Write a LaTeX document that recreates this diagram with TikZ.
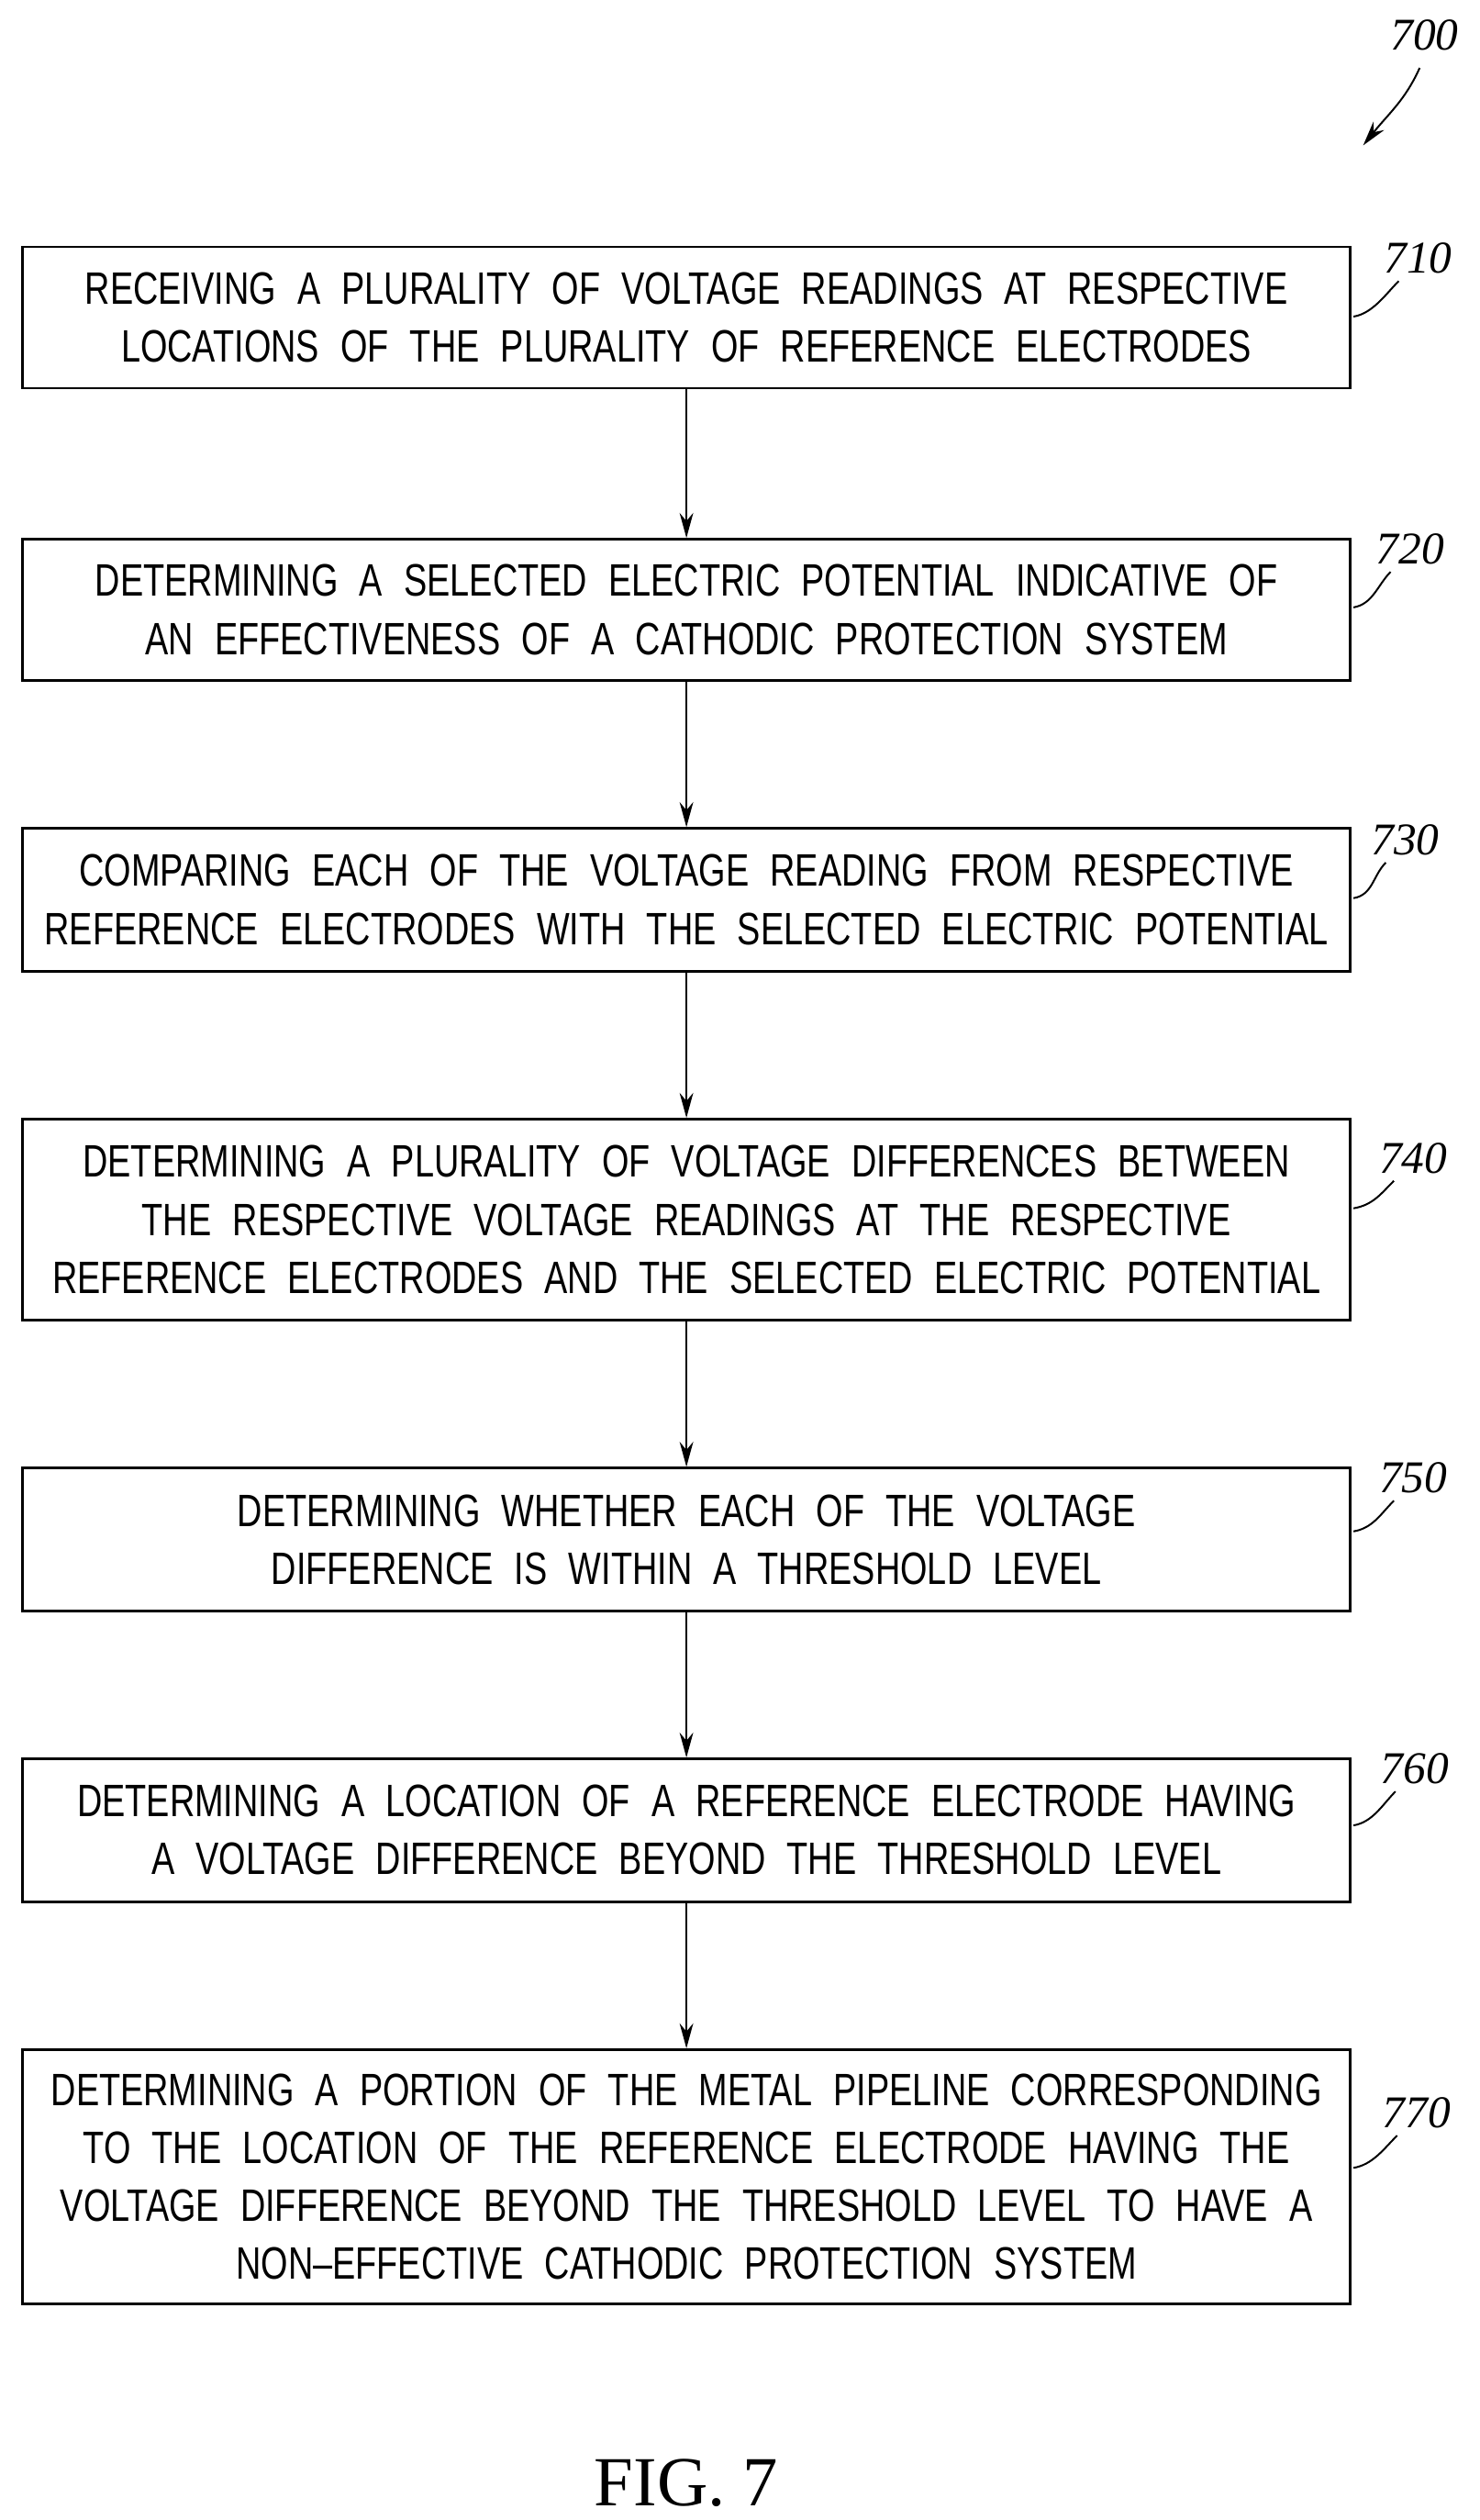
\documentclass[tikz,border=0pt]{standalone}
\usepackage{fontspec}
\setmainfont{Liberation Sans}[FakeStretch=0.765,WordSpace=2.2]
\newfontfamily\figfont{Liberation Serif}
\usetikzlibrary{arrows.meta}
\begin{document}
\begin{tikzpicture}[x=0.05cm,y=-0.05cm,
 box/.style={draw,line width=2.2pt,inner sep=0pt,align=center,font=\fontsize{40}{51}\selectfont},
 arr/.style={line width=1.6pt,-{Stealth[length=22pt,width=12pt]}},
 lead/.style={line width=1.6pt},
 lab/.style={font=\fontsize{40}{40}\selectfont\itshape\figfont}]
\useasboundingbox (0,0) rectangle (916,1560);
\def\bx#1#2#3#4{\node[box,minimum width=41.1cm,minimum height={(#3-#2)*0.05cm-2.2pt}] (#1) at (425,{(#2+#3)/2}) {#4};}
\bx{b710}{152}{241}{RECEIVING A PLURALITY OF VOLTAGE READINGS AT RESPECTIVE\\LOCATIONS OF THE PLURALITY OF REFERENCE ELECTRODES}
\bx{b720}{333}{422}{DETERMINING A SELECTED ELECTRIC POTENTIAL INDICATIVE OF\\AN EFFECTIVENESS OF A CATHODIC PROTECTION SYSTEM}
\bx{b730}{512}{602}{COMPARING EACH OF THE VOLTAGE READING FROM RESPECTIVE\\REFERENCE ELECTRODES WITH THE SELECTED ELECTRIC POTENTIAL}
\bx{b740}{692}{818}{DETERMINING A PLURALITY OF VOLTAGE DIFFERENCES BETWEEN\\THE RESPECTIVE VOLTAGE READINGS AT THE RESPECTIVE\\REFERENCE ELECTRODES AND THE SELECTED ELECTRIC POTENTIAL}
\bx{b750}{908}{998}{DETERMINING WHETHER EACH OF THE VOLTAGE\\DIFFERENCE IS WITHIN A THRESHOLD LEVEL}
\bx{b760}{1088}{1178}{DETERMINING A LOCATION OF A REFERENCE ELECTRODE HAVING\\A VOLTAGE DIFFERENCE BEYOND THE THRESHOLD LEVEL}
\bx{b770}{1268}{1427}{DETERMINING A PORTION OF THE METAL PIPELINE CORRESPONDING\\TO THE LOCATION OF THE REFERENCE ELECTRODE HAVING THE\\VOLTAGE DIFFERENCE BEYOND THE THRESHOLD LEVEL TO HAVE A\\NON--EFFECTIVE CATHODIC PROTECTION SYSTEM}
\foreach \a/\b in {b710/b720,b720/b730,b730/b740,b740/b750,b750/b760,b760/b770}
 \draw[arr] (\a.south) -- (\b.north);
\foreach \n/\lx/\ly/\sy in {710/878/160/196,720/873/340/376,730/870/520/556,740/875/717/748,750/875/915/948,760/876/1095/1130,770/877/1308/1342}{
 \node[lab] (l\n) at (\lx,\ly) {\n};
 \coordinate (s\n) at (838,\sy);
 \draw[lead] (s\n) .. controls (850,\sy-2) and (\lx-20,\ly+22) .. (\lx-12,\ly+14);
}
\node[lab] (l700) at (882,22) {700};
\coordinate (t700) at (879,42);
\coordinate (h700) at (844,90);
\draw[line width=1.6pt,-{Stealth[length=22pt,width=12pt]}] (t700) .. controls (870,62) and (860,70) .. (h700);
\node[font=\fontsize{62}{62}\selectfont\figfont] (fig) at (425,1537) {FIG. 7};
\end{tikzpicture}
\end{document}
